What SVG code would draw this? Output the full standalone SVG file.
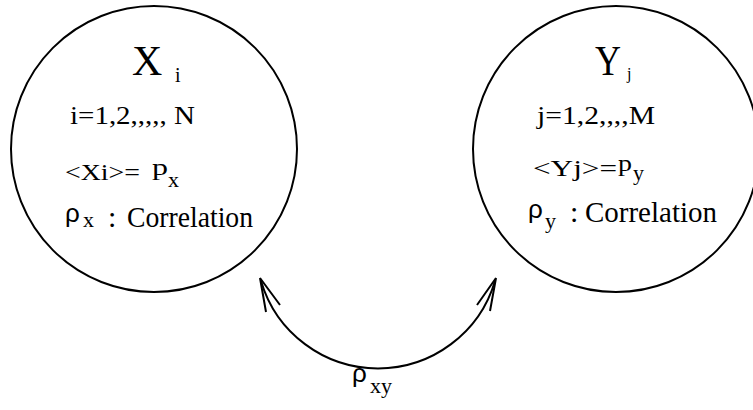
<svg xmlns="http://www.w3.org/2000/svg" width="753" height="410" viewBox="0 0 753 410">
<style>
.node{fill:none;stroke:#000;stroke-width:2}
.conn{fill:none;stroke:#000;stroke-width:2}
.head{fill:none;stroke:#000;stroke-width:2;stroke-linejoin:miter}
text{fill:#000;font-family:"Liberation Serif","Times New Roman",serif}
.gr{font-family:"Liberation Sans",Arial,sans-serif}
</style>
<rect width="753" height="410" fill="#fff"/>
<g id="connectors">
<path class="conn" d="M 261 281 A 122 122 0 0 0 495 281"/>
<path class="head" d="M 266 312 L 260 278 L 280 305"/>
<path class="head" d="M 477 305 L 496 278 L 490 311"/>
<text class="gr" x="352" y="382" font-size="26">ρ</text>
<text x="370" y="393" font-size="22">xy</text>
</g>
<g id="node-X">
<circle class="node" cx="154" cy="149" r="143"/>
<text x="132" y="75" font-size="42">X</text>
<text x="175" y="82" font-size="20">i</text>
<text x="70" y="124" font-size="25" textLength="125" lengthAdjust="spacingAndGlyphs">i=1,2,,,,, N</text>
<text x="65" y="180" font-size="23" textLength="75" lengthAdjust="spacingAndGlyphs">&lt;Xi&gt;=</text>
<text x="152" y="175" font-size="23" textLength="16" lengthAdjust="spacingAndGlyphs">p</text>
<text x="168" y="187" font-size="22">x</text>
<text class="gr" x="65" y="222" font-size="26">ρ</text>
<text x="83" y="227" font-size="22">x</text>
<text x="108" y="227" font-size="30">:</text>
<text x="127" y="227" font-size="30" textLength="126" lengthAdjust="spacingAndGlyphs">Correlation</text>
</g>
<g id="node-Y">
<circle class="node" cx="616" cy="149" r="143"/>
<text x="595" y="75" font-size="42" textLength="26" lengthAdjust="spacingAndGlyphs">Y</text>
<text x="627" y="79" font-size="16">j</text>
<text x="537" y="124" font-size="25" textLength="118" lengthAdjust="spacingAndGlyphs">j=1,2,,,,M</text>
<text x="533" y="176" font-size="23" textLength="84" lengthAdjust="spacingAndGlyphs">&lt;Yj&gt;=</text>
<text x="618" y="171" font-size="23" textLength="14" lengthAdjust="spacingAndGlyphs">p</text>
<text x="633" y="180" font-size="22">y</text>
<text class="gr" x="528" y="218" font-size="26">ρ</text>
<text x="545" y="228" font-size="22">y</text>
<text x="570" y="222" font-size="30">:</text>
<text x="585" y="222" font-size="30" textLength="132" lengthAdjust="spacingAndGlyphs">Correlation</text>
</g>
</svg>
